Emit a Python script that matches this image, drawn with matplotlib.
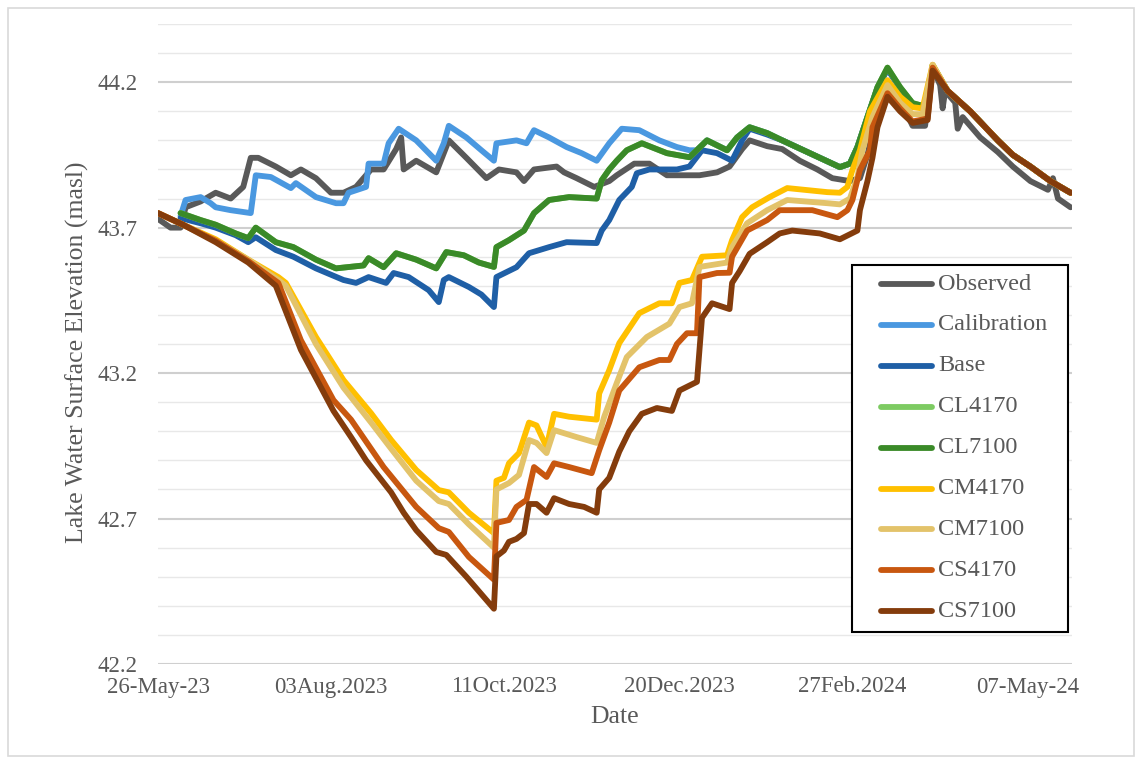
import matplotlib
matplotlib.use("Agg")
import matplotlib.pyplot as plt
import matplotlib.dates as mdates
from matplotlib.ticker import FixedLocator
from matplotlib.patches import Rectangle
from matplotlib.lines import Line2D
import numpy as np
import pandas as pd

# ---------------- data (day offset from 26-May-2023, elevation masl) ----------------
START = pd.Timestamp("2023-05-26")

x_tick_dates = ["2023-05-26", "2023-08-03", "2023-10-11", "2023-12-20", "2024-02-27", "2024-05-07"]
x_tick_labels = ["26-May-23", "03Aug.2023", "11Oct.2023", "20Dec.2023", "27Feb.2024", "07-May-24"]
y_ticks = [42.2, 42.7, 43.2, 43.7, 44.2]

OBSERVED = [(0, 43.73), (5, 43.70), (9, 43.70), (11, 43.77), (17, 43.79), (23, 43.82), (29, 43.80),
            (34, 43.84), (37, 43.94), (40, 43.94), (47, 43.91), (53, 43.88), (57, 43.90), (63, 43.87),
            (69, 43.82), (74, 43.82), (79, 43.84), (85, 43.90), (90, 43.90), (95, 43.97), (97, 44.01),
            (98, 43.90), (103, 43.93), (111, 43.89), (116, 44.00), (123, 43.94), (131, 43.87),
            (136, 43.90), (143, 43.89), (146, 43.86), (150, 43.90), (159, 43.91), (162, 43.89),
            (167, 43.87), (174, 43.84), (180, 43.86), (183, 43.88), (190, 43.92), (196, 43.92),
            (203, 43.88), (216, 43.88), (223, 43.89), (228, 43.91), (233, 43.97), (236, 44.00),
            (243, 43.98), (249, 43.97), (256, 43.93), (263, 43.90), (269, 43.87), (276, 43.86),
            (280, 43.87), (283, 43.95), (287, 44.10), (291, 44.20), (296, 44.14), (301, 44.05),
            (306, 44.05), (309, 44.25), (312, 44.19), (313, 44.11), (314, 44.17), (318, 44.13),
            (319, 44.04), (321, 44.08), (328, 44.01), (335, 43.96), (341, 43.91), (348, 43.86),
            (355, 43.83), (357, 43.87), (359, 43.80), (364, 43.77)]

CALIBRATION = [(9, 43.74), (11, 43.795), (17, 43.805), (21, 43.784), (23, 43.77), (29, 43.76),
               (37, 43.75), (39, 43.88), (45, 43.874), (53, 43.836), (55, 43.853), (63, 43.805),
               (71, 43.784), (74, 43.784), (76, 43.82), (83, 43.84), (84, 43.92), (90, 43.92),
               (92, 43.99), (96, 44.04), (103, 44.00), (111, 43.93), (114, 43.99), (116, 44.05),
               (123, 44.01), (129, 43.966), (134, 43.93), (135, 43.99), (143, 44.00), (147, 43.99),
               (150, 44.035), (156, 44.01), (163, 43.977), (169, 43.956), (175, 43.93), (180, 43.99),
               (185, 44.04), (192, 44.035), (200, 44.00), (207, 43.977), (212, 43.966), (215, 43.966),
               (219, 44.00), (227, 43.966), (231, 44.01), (236, 44.045), (243, 44.025), (249, 44.00),
               (260, 43.956), (272, 43.908), (276, 43.92), (279, 43.977), (283, 44.08), (287, 44.18),
               (291, 44.245), (296, 44.18), (301, 44.125), (307, 44.11), (309, 44.255), (315, 44.17),
               (324, 44.10), (335, 44.00), (341, 43.95), (348, 43.91), (356, 43.86), (364, 43.82)]

BASE = [(9, 43.733), (17, 43.715), (23, 43.70), (31, 43.674), (36, 43.65), (39, 43.667), (47, 43.623),
        (54, 43.60), (63, 43.56), (74, 43.52), (79, 43.51), (84, 43.53), (91, 43.51), (94, 43.544),
        (100, 43.53), (108, 43.485), (112, 43.444), (114, 43.52), (116, 43.53), (124, 43.496),
        (129, 43.47), (134, 43.427), (135, 43.53), (143, 43.564), (148, 43.612), (156, 43.633),
        (163, 43.65), (175, 43.647), (177, 43.69), (180, 43.726), (184, 43.795), (189, 43.84),
        (191, 43.887), (196, 43.90), (207, 43.90), (212, 43.91), (217, 43.966), (223, 43.956),
        (229, 43.93), (233, 44.00), (236, 44.04), (243, 44.02), (249, 44.00), (260, 43.956),
        (272, 43.908), (276, 43.92), (279, 43.977), (283, 44.08), (287, 44.18), (291, 44.245),
        (296, 44.18), (301, 44.125), (307, 44.11), (309, 44.255), (315, 44.17), (324, 44.10),
        (335, 44.00), (341, 43.95), (348, 43.91), (356, 43.86), (364, 43.82)]

CL7100 = [(9, 43.75), (17, 43.726), (23, 43.71), (31, 43.68), (36, 43.664), (39, 43.70), (47, 43.65),
          (54, 43.633), (63, 43.59), (71, 43.56), (82, 43.57), (84, 43.595), (90, 43.564), (95, 43.612),
          (103, 43.59), (111, 43.56), (115, 43.616), (122, 43.605), (128, 43.58), (134, 43.565),
          (135, 43.633), (140, 43.657), (146, 43.69), (150, 43.75), (156, 43.795), (164, 43.805),
          (175, 43.80), (177, 43.863), (180, 43.90), (183, 43.93), (187, 43.966), (193, 43.99),
          (203, 43.956), (212, 43.942), (219, 44.00), (227, 43.966), (231, 44.01), (236, 44.045),
          (243, 44.025), (249, 44.00), (260, 43.956), (272, 43.908), (276, 43.92), (279, 43.977),
          (283, 44.08), (287, 44.183), (291, 44.25), (296, 44.183), (301, 44.128), (307, 44.114),
          (309, 44.258), (315, 44.17), (324, 44.10), (335, 44.00), (341, 43.95), (348, 43.91),
          (356, 43.86), (364, 43.82)]

# CL4170 is indistinguishable from CL7100 in the figure (drawn underneath)
CL4170 = list(CL7100)

CM4170 = [(0, 43.75), (10, 43.71), (23, 43.66), (36, 43.59), (48, 43.53), (51, 43.51), (63, 43.324),
          (74, 43.176), (85, 43.062), (93, 42.97), (103, 42.867), (112, 42.798), (116, 42.79),
          (124, 42.72), (134, 42.65), (135, 42.83), (138, 42.84), (140, 42.89), (144, 42.925),
          (148, 43.03), (151, 43.02), (155, 42.946), (158, 43.06), (164, 43.05), (175, 43.04),
          (176, 43.13), (180, 43.21), (184, 43.303), (192, 43.406), (200, 43.44), (205, 43.44),
          (208, 43.51), (213, 43.52), (217, 43.60), (227, 43.605), (229, 43.657), (233, 43.736),
          (237, 43.77), (244, 43.805), (251, 43.836), (267, 43.822), (272, 43.82), (275, 43.84),
          (277, 43.898), (280, 43.966), (284, 44.10), (291, 44.207), (296, 44.15), (301, 44.114),
          (305, 44.11), (309, 44.26), (315, 44.17), (324, 44.10), (335, 44.00), (341, 43.95),
          (348, 43.91), (356, 43.86), (364, 43.82)]

CM7100 = [(0, 43.75), (10, 43.71), (23, 43.655), (36, 43.59), (48, 43.52), (51, 43.50), (63, 43.30),
          (74, 43.15), (85, 43.03), (93, 42.94), (103, 42.83), (112, 42.76), (116, 42.75), (124, 42.68),
          (134, 42.60), (135, 42.80), (140, 42.822), (144, 42.85), (148, 42.97), (151, 42.96),
          (155, 42.925), (158, 43.004), (167, 42.98), (175, 42.96), (178, 43.05), (183, 43.166),
          (187, 43.255), (195, 43.324), (204, 43.37), (208, 43.427), (213, 43.44), (216, 43.565),
          (227, 43.58), (229, 43.633), (235, 43.715), (243, 43.76), (251, 43.795), (267, 43.784),
          (272, 43.78), (276, 43.80), (279, 43.874), (281, 43.966), (285, 44.08), (291, 44.19),
          (296, 44.13), (301, 44.09), (305, 44.09), (309, 44.26), (315, 44.17), (324, 44.10),
          (335, 44.00), (341, 43.95), (348, 43.91), (356, 43.86), (364, 43.82)]

CS4170 = [(0, 43.75), (10, 43.71), (23, 43.655), (36, 43.585), (48, 43.51), (57, 43.313), (70, 43.107),
          (77, 43.04), (90, 42.877), (103, 42.74), (112, 42.667), (116, 42.654), (124, 42.568),
          (134, 42.49), (135, 42.685), (140, 42.695), (143, 42.74), (147, 42.764), (150, 42.877),
          (155, 42.843), (158, 42.89), (164, 42.877), (173, 42.856), (176, 42.935), (180, 43.03),
          (184, 43.14), (192, 43.22), (200, 43.245), (204, 43.245), (207, 43.30), (211, 43.337),
          (215, 43.337), (216, 43.53), (223, 43.544), (228, 43.545), (229, 43.60), (235, 43.69),
          (243, 43.726), (248, 43.76), (261, 43.76), (271, 43.736), (275, 43.76), (277, 43.795),
          (280, 43.898), (284, 43.966), (285, 44.045), (291, 44.162), (296, 44.11), (301, 44.065),
          (307, 44.075), (309, 44.25), (315, 44.17), (324, 44.10), (335, 44.00), (341, 43.95),
          (348, 43.91), (356, 43.86), (364, 43.82)]

CS7100 = [(0, 43.75), (10, 43.71), (23, 43.65), (36, 43.58), (47, 43.50), (57, 43.28), (70, 43.07),
          (77, 42.98), (83, 42.90), (93, 42.79), (98, 42.72), (103, 42.66), (111, 42.585),
          (115, 42.575), (123, 42.50), (134, 42.39), (135, 42.57), (138, 42.59), (140, 42.62),
          (143, 42.63), (146, 42.65), (148, 42.75), (151, 42.75), (155, 42.72), (158, 42.77),
          (164, 42.75), (170, 42.74), (175, 42.72), (176, 42.80), (180, 42.84), (184, 42.93),
          (188, 43.00), (193, 43.06), (199, 43.08), (205, 43.07), (208, 43.14), (215, 43.17),
          (217, 43.39), (221, 43.44), (228, 43.42), (229, 43.51), (232, 43.55), (236, 43.61),
          (243, 43.65), (248, 43.68), (253, 43.69), (264, 43.68), (272, 43.66), (279, 43.69),
          (280, 43.76), (283, 43.86), (285, 43.94), (287, 44.045), (291, 44.15), (296, 44.10),
          (301, 44.06), (307, 44.07), (309, 44.24), (315, 44.17), (324, 44.10), (335, 44.00),
          (341, 43.95), (348, 43.91), (356, 43.86), (364, 43.82)]

series_names = ["Observed", "Calibration", "Base", "CL4170", "CL7100",
                "CM4170", "CM7100", "CS4170", "CS7100"]
series_data = [OBSERVED, CALIBRATION, BASE, CL4170, CL7100, CM4170, CM7100, CS4170, CS7100]
series_colors = ["#595959", "#4A98E0", "#1F5FA6", "#7DCB62", "#3A8A28",
                 "#FFC000", "#E3C36A", "#C8570F", "#843C0C"]

# ---------------- figure ----------------
W, H = 1142, 763
plt.rcParams["font.family"] = ["Liberation Serif", "DejaVu Serif"]
fig = plt.figure(figsize=(W / 100, H / 100), dpi=100)
fig.patch.set_facecolor("white")


def fx(px):
    return px / W


def fy(py):
    return 1 - py / H


# outer chart border
fig.add_artist(Rectangle((fx(8), fy(756)), (W - 16) / W, (H - 15) / H, transform=fig.transFigure,
                         fill=False, edgecolor="#d9d9d9", linewidth=1.2))

ax = fig.add_axes([fx(158), fy(664), (1072 - 158) / W, (664 - 24) / H])

for name, data, col in zip(series_names, series_data, series_colors):
    days = [d for d, _ in data]
    vals = [v for _, v in data]
    dates = START + pd.to_timedelta(days, unit="D")
    ax.plot(dates, vals, color=col, linewidth=4.2, solid_joinstyle="round",
            solid_capstyle="round", label=name, zorder=3)

ax.set_xlim(START, START + pd.Timedelta(days=364.6))
ax.set_ylim(42.2, 44.4)

ax.xaxis.set_major_locator(FixedLocator(mdates.date2num(pd.to_datetime(x_tick_dates))))
ax.set_xticklabels(x_tick_labels)
ax.yaxis.set_major_locator(FixedLocator(y_ticks))
ax.set_yticklabels([f"{v:.1f}" for v in y_ticks])
ax.yaxis.set_minor_locator(FixedLocator(np.round(np.arange(42.2, 44.41, 0.1), 1)))

for s in ax.spines.values():
    s.set_visible(False)
ax.tick_params(axis="both", which="both", length=0, labelsize=16.5, labelcolor="#595959")
ax.tick_params(axis="y", pad=15)
ax.tick_params(axis="x", pad=9)

ax.grid(False, axis="x")
ax.grid(True, axis="y", which="minor", color="#e8e8e8", linewidth=1.0, zorder=0)
ax.grid(True, axis="y", which="major", color="#cfcfcf", linewidth=1.5, zorder=1)
ax.set_axisbelow(True)

ax.set_xlabel("Date", fontsize=18.5, color="#595959")
ax.set_ylabel("Lake Water Surface Elevation (masl)", fontsize=18.5, color="#595959")
ax.xaxis.set_label_coords(0.5, -(706 - 664) / 640)
ax.yaxis.set_label_coords((89 - 158) / 914, (664 - 352) / 640)

# legend box (drawn in figure pixel layout to match the reference)
leg_left, leg_top, leg_right, leg_bottom = 852, 265, 1068, 632
fig.add_artist(Rectangle((fx(leg_left), fy(leg_bottom)), (leg_right - leg_left) / W,
                         (leg_bottom - leg_top) / H, transform=fig.transFigure,
                         facecolor="white", edgecolor="black", linewidth=1.5, zorder=5))
row_y0, row_step = 284, 40.9
for i, (name, col) in enumerate(zip(series_names, series_colors)):
    yy = fy(row_y0 + i * row_step)
    fig.add_artist(Line2D([fx(881), fx(932)], [yy, yy], transform=fig.transFigure, color=col,
                          linewidth=4.2, solid_capstyle="round", zorder=6))
    fig.text(fx(938), yy, name, fontsize=17.5, color="#595959", va="center", ha="left", zorder=7)

fig.savefig("out.png", dpi=100, facecolor="white")
